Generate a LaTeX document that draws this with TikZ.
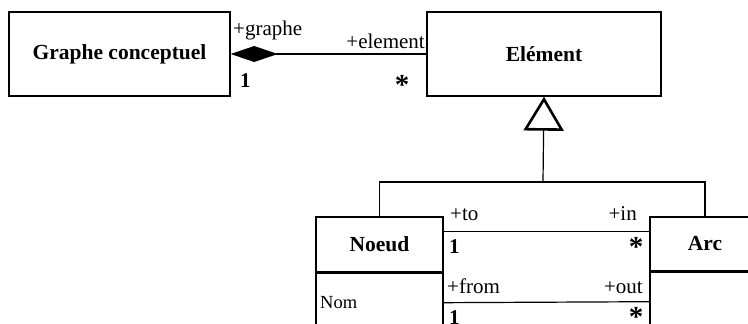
\documentclass[tikz,border=0pt]{standalone}
\usepackage{fontspec}
\setmainfont{Liberation Serif}
\usetikzlibrary{arrows.meta,calc}
\begin{document}
\begin{tikzpicture}[x=1pt,y=-1pt,
  cls/.style={draw,line width=1.4pt,inner sep=0pt,font=\fontsize{21.5}{24}\selectfont\bfseries},
  comp/.style={draw,line width=1.4pt,inner sep=0pt},
  lbl/.style={inner sep=0pt,font=\fontsize{21}{24}\selectfont},
  mult/.style={inner sep=0pt,font=\fontsize{21}{24}\selectfont\bfseries},
  star/.style={inner sep=0pt,font=\fontsize{29}{30}\selectfont\bfseries},
  conn/.style={line width=1.2pt},
  sep/.style={line width=2.6pt}]
\useasboundingbox (0,0) rectangle (748,324);
\clip (0,0) rectangle (748,324);
% classes
\node[cls,minimum width=221pt,minimum height=84pt] (gc) at (119.5,54) {Graphe conceptuel};
\node[cls,minimum width=234pt,minimum height=84pt] (el) at (544,54) {Elément};
\node[cls,minimum width=127pt,minimum height=55pt] (noeud) at (379.5,244.5) {Noeud};
\node[comp,minimum width=127pt,minimum height=88pt,anchor=north] (noeudb) at (noeud.south) {};
\node[cls,minimum width=110pt,minimum height=54pt] (arc) at (705,244) {Arc};
\node[comp,minimum width=110pt,minimum height=88pt,anchor=north] (arcb) at (arc.south) {};
\draw[sep] (noeud.south west) -- (noeud.south east);
\draw[sep] (arc.south west) -- (arc.south east);
\node[inner sep=0pt,anchor=base west,font=\fontsize{18.5}{20}\selectfont] (nom) at (320,308) {Nom};
% composition
\draw[conn,{Diamond[length=47pt,width=16pt,fill=black]}-] (gc.east) -- (el.west);
\node[lbl,anchor=base west] (lg) at (233,35) {+graphe};
\node[lbl,anchor=base east] (le) at (425,48) {+element};
\node[mult,anchor=base west] (m1) at (240,87) {1};
\node[star] (m2) at (402,85) {*};
% generalization
\coordinate (j) at (543,182);
\draw[conn] (noeud.north) |- (j) -| (arc.north);
\draw[conn,-{Triangle[open,length=34pt,width=40pt,line width=2.6pt]}] (j) -- (el.south);
% associations
\draw[conn] ($(noeud.north east)+(0,15)$) -- ($(arc.north west)+(0,15)$);
\draw[conn] ($(noeudb.north west)+(127,30)$) -- ($(arcb.north west)+(0,30)$);
\node[lbl,anchor=base west] (lto) at (450,220) {+to};
\node[lbl,anchor=base east] (lin) at (637,220) {+in};
\node[mult,anchor=base west] (m3) at (449,253) {1};
\node[star] (m4) at (636,247) {*};
\node[lbl,anchor=base west] (lfrom) at (447,293) {+from};
\node[lbl,anchor=base east] (lout) at (643,293) {+out};
\node[mult,anchor=base west] (m5) at (449,324) {1};
\node[star] (m6) at (636,317) {*};
\end{tikzpicture}
\end{document}
